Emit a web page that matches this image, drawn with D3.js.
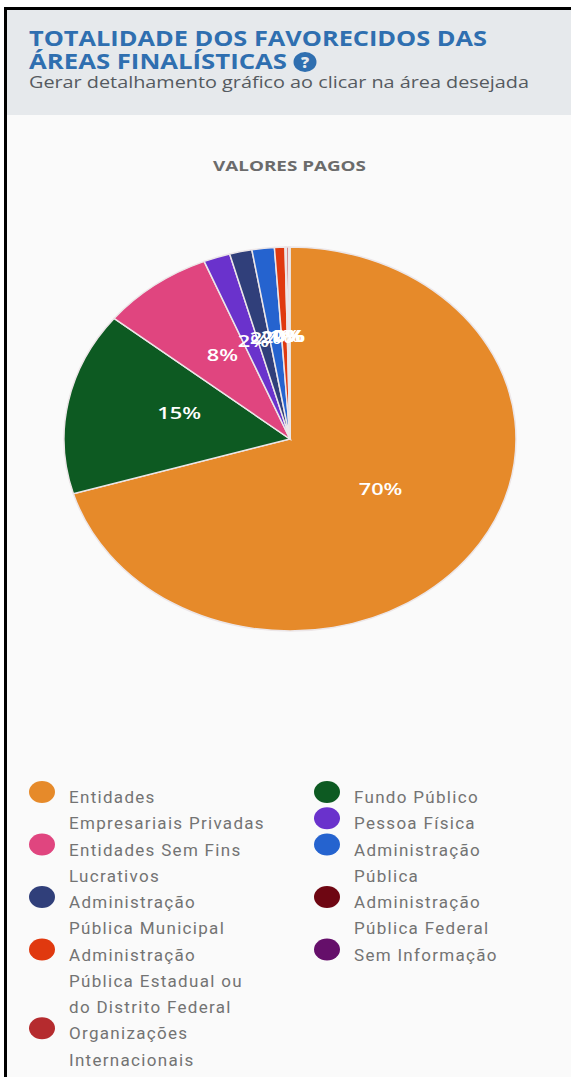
<!DOCTYPE html>
<html lang="pt">
<head>
<meta charset="utf-8">
<script src="https://cdn.jsdelivr.net/npm/d3@7/dist/d3.min.js"></script>
<style>
html, body { margin: 0; padding: 0; background: #fff; }
svg { display: block; }
</style>
</head>
<body>
<svg id="chart" width="571" height="1077"></svg>
<script>
// Payment shares per beneficiary type, in percent
const categories = [
  "Entidades Empresariais Privadas", "Fundo Público", "Entidades Sem Fins Lucrativos",
  "Pessoa Física", "Administração Pública Municipal", "Administração Pública",
  "Administração Pública Estadual ou do Distrito Federal", "Administração Pública Federal",
  "Organizações Internacionais", "Sem Informação"
];
const shares = [70.4, 15.4, 8.0, 1.9, 1.6, 1.6, 0.75, 0.1, 0.15, 0.1];
const sliceLabels = ["70%", "15%", "8%", "2%", "2%", "2%", "1%", "0%", "0%", "0%"];
const colors = ["#e68a2a", "#0d5a22", "#e0457f", "#6a32cc", "#303f7a", "#2563cf",
                "#e0390f", "#6e0612", "#b52b2e", "#650f6a"];

// Wrapped legend lines, laid out in two columns
const leftColumn = [
  [0, ["Entidades", "Empresariais Privadas"]],
  [2, ["Entidades Sem Fins", "Lucrativos"]],
  [4, ["Administração", "Pública Municipal"]],
  [6, ["Administração", "Pública Estadual ou", "do Distrito Federal"]],
  [8, ["Organizações", "Internacionais"]]
];
const rightColumn = [
  [1, ["Fundo Público"]],
  [3, ["Pessoa Física"]],
  [5, ["Administração", "Pública"]],
  [7, ["Administração", "Pública Federal"]],
  [9, ["Sem Informação"]]
];

const svg = d3.select("#chart");

// Page frame and header panel
svg.append("rect").attr("x", 4).attr("y", 7).attr("width", 567).attr("height", 1070).attr("fill", "#000");
svg.append("rect").attr("x", 7).attr("y", 10).attr("width", 564).attr("height", 1067).attr("fill", "#fafafa");
svg.append("rect").attr("x", 7).attr("y", 10).attr("width", 564).attr("height", 105).attr("fill", "#e6e9ec");

// Header text is set wide to fill the panel
const header = svg.append("g").attr("font-family", "'Open Sans'");
function headerText(x, y, size, weight, fill, width, str, anchor) {
  header.append("text").attr("x", x).attr("y", y).attr("font-size", size).attr("font-weight", weight)
    .attr("fill", fill).attr("text-anchor", anchor || "start")
    .attr("textLength", width).attr("lengthAdjust", "spacingAndGlyphs").text(str);
}
headerText(29, 46, 21.5, 700, "#2f6fb0", 458, "TOTALIDADE DOS FAVORECIDOS DAS");
headerText(29, 69, 21.5, 700, "#2f6fb0", 258, "ÁREAS FINALÍSTICAS");
header.append("ellipse").attr("cx", 305).attr("cy", 62).attr("rx", 11.5).attr("ry", 10).attr("fill", "#2f6fb0");
header.append("text").attr("x", 305).attr("y", 68).attr("font-size", 16).attr("font-weight", 800)
  .attr("text-anchor", "middle").attr("fill", "#e6e9ec").text("?");
headerText(29, 88, 16.2, 500, "#555a60", 500, "Gerar detalhamento gráfico ao clicar na área desejada");
headerText(213, 171, 14.8, 700, "#6b6b6b", 153, "VALORES PAGOS");

// Pie, stretched vertically into an ellipse
const radius = 226;
const squash = 192 / 226;
const pie = d3.pie().sort(null).value(d => d)(shares);
const arc = d3.arc().innerRadius(0).outerRadius(radius);
const plot = svg.append("g").attr("transform", `translate(290,439) scale(1,${squash})`);

plot.selectAll("path").data(pie).join("path")
  .attr("d", arc)
  .attr("fill", (d, i) => colors[i])
  .attr("stroke", "#ece6e8")
  .attr("stroke-width", 1.5)
  .attr("vector-effect", "non-scaling-stroke");

svg.append("g").selectAll("text").data(pie).join("text")
  .attr("transform", d => `translate(${290 + arc.centroid(d)[0]},${439 + arc.centroid(d)[1] * squash - 1}) scale(1.28,1)`)
  .attr("text-anchor", "middle")
  .attr("font-family", "'Open Sans'")
  .attr("font-size", 17)
  .attr("font-weight", 600)
  .attr("fill", "#fff")
  .text((d, i) => sliceLabels[i]);

// Legend
const lineStep = 26.25;
const legendTop = 792;
function drawColumn(items, dotX, textX) {
  const g = svg.append("g");
  let row = 0;
  items.forEach(([index, lines]) => {
    const y = legendTop + row * lineStep;
    g.append("ellipse").attr("cx", dotX).attr("cy", y).attr("rx", 13).attr("ry", 11).attr("fill", colors[index]);
    lines.forEach((line, k) => {
      g.append("text").attr("x", textX).attr("y", y + 11 + k * lineStep)
        .attr("font-family", "Roboto").attr("font-size", 17).attr("letter-spacing", 1.3)
        .attr("fill", "#737373").text(line);
    });
    row += lines.length;
  });
}
drawColumn(leftColumn, 42, 69);
drawColumn(rightColumn, 327, 354);
</script>
</body>
</html>
